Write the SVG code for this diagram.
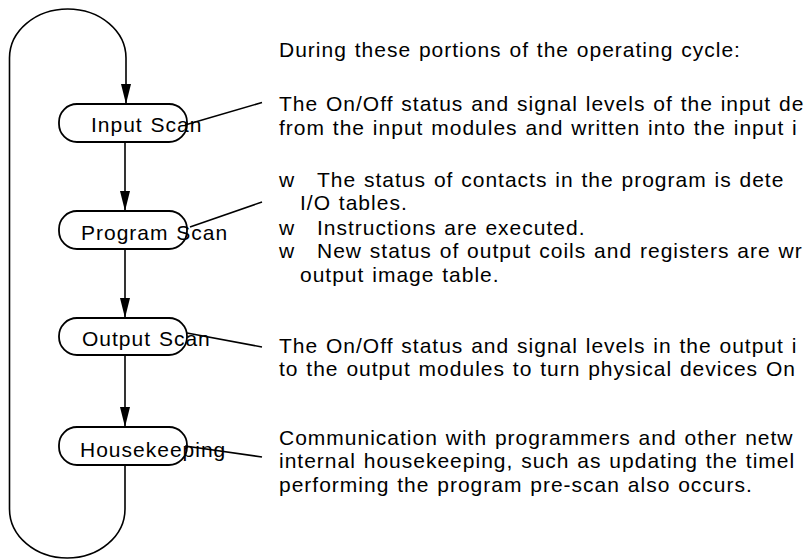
<svg xmlns="http://www.w3.org/2000/svg" width="805" height="560" viewBox="0 0 805 560">
<style>
text{font-family:"Liberation Sans",Arial,sans-serif;font-size:21px;letter-spacing:1px;word-spacing:1px;fill:#000}
.pill{fill:#fff;stroke:#000;stroke-width:1.8}
.ln{fill:none;stroke:#000;stroke-width:1.6}
</style>
<defs>
<marker id="ah" viewBox="0 0 10 20" refX="10" refY="10" markerWidth="10" markerHeight="20" markerUnits="userSpaceOnUse" orient="auto">
<path d="M0,0 L10,10 L0,20 Z" transform="rotate(0)" fill="#000"/>
</marker>
<marker id="arr" viewBox="0 0 20 10" refX="20" refY="5" markerWidth="20" markerHeight="10" markerUnits="userSpaceOnUse" orient="auto">
<path d="M0,0 L20,5 L0,10 Z" fill="#000"/>
</marker>
</defs>
<rect width="805" height="560" fill="#fff"/>
<g id="n_input"><rect class="pill" x="59" y="104" width="128" height="38" rx="18"/><text x="91" y="132">Input Scan</text></g>
<g id="n_program"><rect class="pill" x="59" y="211" width="128" height="38" rx="18"/><text x="81" y="240">Program Scan</text></g>
<g id="n_output"><rect class="pill" x="59" y="318" width="128" height="37" rx="18"/><text x="82" y="346">Output Scan</text></g>
<g id="n_house"><rect class="pill" x="59" y="427" width="128" height="38" rx="18"/><text x="80" y="457">Housekeeping</text></g>
<g id="connectors">
<path class="ln" marker-end="url(#arr)" d="M125,465 L125,509 A57.75 49 0 0 1 9.5,509 L9.5,58 A58.25 49 0 0 1 126,58 L126,104"/>
<path class="ln" marker-end="url(#arr)" d="M125,142 L125,211"/>
<path class="ln" marker-end="url(#arr)" d="M125,249 L125,318"/>
<path class="ln" marker-end="url(#arr)" d="M125,355 L125,427"/>
<path class="ln" d="M185,125 L262,102.5"/>
<path class="ln" d="M190,227 L262,202"/>
<path class="ln" d="M187,333 L262,347"/>
<path class="ln" d="M185,446 L262,457"/>
</g>
<g id="notes">
<text x="279" y="57">During these portions of the operating cycle:</text>
<text x="279" y="111">The On/Off status and signal levels of the input de</text>
<text x="279" y="135">from the input modules and written into the input i</text>
<text x="279" y="187">w<tspan x="317">The status of contacts in the program is dete</tspan></text>
<text x="300" y="210">I/O tables.</text>
<text x="279" y="235">w<tspan x="317">Instructions are executed.</tspan></text>
<text x="279" y="258">w<tspan x="317">New status of output coils and registers are wr</tspan></text>
<text x="300" y="282">output image table.</text>
<text x="279" y="353">The On/Off status and signal levels in the output i</text>
<text x="279" y="376">to the output modules to turn physical devices On</text>
<text x="279" y="445">Communication with programmers and other netw</text>
<text x="279" y="468">internal housekeeping, such as updating the timel</text>
<text x="279" y="492">performing the program pre-scan also occurs.</text>
</g>
</svg>
